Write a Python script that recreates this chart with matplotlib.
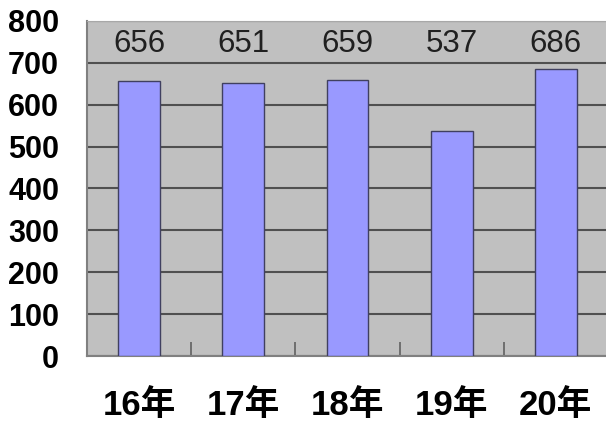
import matplotlib
matplotlib.use("Agg")
import matplotlib.pyplot as plt

# Data
years = ["16年", "17年", "18年", "19年", "20年"]
counts = [656, 651, 659, 537, 686]
y_ticks = [0, 100, 200, 300, 400, 500, 600, 700, 800]

fig = plt.figure(figsize=(6.06, 4.23), dpi=100)
# plot area runs slightly past the right edge like the original
ax = fig.add_axes([87 / 606, 1 - 356 / 423, 521 / 606, 335 / 423])
ax.set_facecolor("#c0c0c0")

x = range(len(years))
ax.bar(x, counts, width=0.4, color="#9999ff", edgecolor="#404060",
       linewidth=1.0, zorder=3)

# value labels in the band above the bars
for i, v in zip(x, counts):
    ax.text(i, 745, str(v), ha="center", va="center", fontsize=22.5,
            color="#202020", family="Liberation Sans", zorder=4)

ax.set_xlim(-0.5, len(years) - 0.5)
ax.set_ylim(0, 800)
ax.set_yticks(y_ticks)
ax.set_yticklabels([str(t) for t in y_ticks], fontsize=22, fontweight="bold",
                   family="Liberation Sans")
ax.tick_params(axis="y", length=0, pad=20)
ax.yaxis.grid(True, color="#505050", linewidth=1.5, zorder=1)

# category labels under the bars, boundary ticks pointing in
ax.set_xticks(list(x))
ax.set_xticklabels(years, fontsize=25, fontweight="bold",
                   family=["Liberation Sans", "Noto Sans CJK JP"])
ax.tick_params(axis="x", length=0, pad=24)
ax.set_xticks([i + 0.5 for i in range(len(years) - 1)], minor=True)
ax.tick_params(axis="x", which="minor", direction="in", length=10,
               width=1.2, color="#606060")

ax.spines["right"].set_visible(False)
ax.spines["left"].set_color("#808080")
ax.spines["bottom"].set_color("#808080")
ax.spines["top"].set_color("#a8a8a8")
ax.spines["left"].set_linewidth(1.5)
ax.spines["bottom"].set_linewidth(1.5)

fig.savefig("out.png", dpi=100)
